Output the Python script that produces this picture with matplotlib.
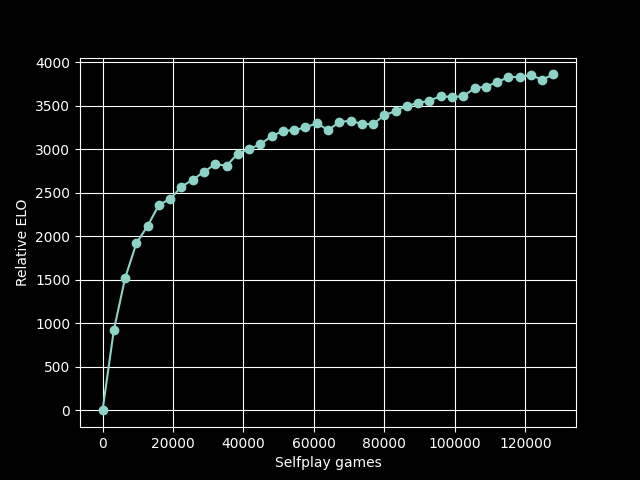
import numpy as np
from matplotlib import pyplot as plt

plt.style.use('dark_background')

# partidas de selfplay cada 3200
games = np.arange(0, 128001, 3200)
elo = [0, 920, 1520, 1920, 2120, 2360, 2430, 2570, 2650, 2740,
       2830, 2810, 2950, 3000, 3060, 3150, 3210, 3220, 3250, 3300,
       3220, 3310, 3330, 3290, 3290, 3390, 3440, 3500, 3530, 3560,
       3610, 3600, 3610, 3700, 3720, 3770, 3830, 3830, 3850, 3800,
       3860]

fig = plt.figure(figsize=(6.4, 4.8), dpi=100)
plt.plot(games, elo, marker='o')
plt.xlabel('Selfplay games')
plt.ylabel('Relative ELO')
plt.grid(True)

plt.savefig('out.png')
